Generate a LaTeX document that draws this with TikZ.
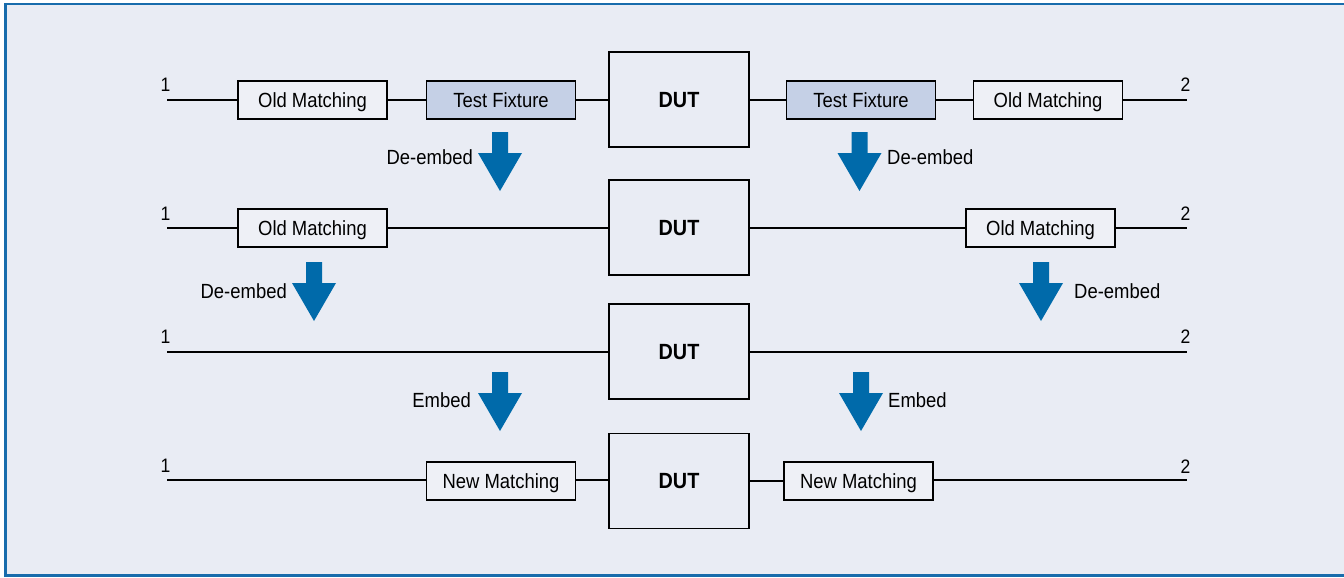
\documentclass[tikz,border=0pt]{standalone}
\usepackage{fontspec}
\setmainfont{Liberation Sans}[FakeStretch=0.9]
\definecolor{bg}{RGB}{233,236,244}
\definecolor{boxfill}{RGB}{238,240,246}
\definecolor{frame}{RGB}{24,108,172}
\definecolor{arrowblue}{RGB}{0,106,170}
\definecolor{fixture}{RGB}{197,208,230}
\begin{document}
\begin{tikzpicture}[x=1pt,y=-1pt,
  txt/.style={font=\fontsize{20.5}{24}\selectfont, inner sep=0pt},
  num/.style={font=\fontsize{19.5}{22}\selectfont, inner sep=0pt},
  blk/.style={draw=black, line width=1.4pt, fill=boxfill, minimum width=149pt, minimum height=38pt, inner sep=0pt, text height=14.7pt, text depth=0pt, font=\fontsize{20.5}{24}\selectfont},
  fixt/.style={blk, fill=fixture},
  dut/.style={draw=black, line width=1.4pt, fill=bg, minimum width=140pt, minimum height=95pt, inner sep=0pt, text height=15.8pt, text depth=0pt, font=\bfseries\fontsize{22}{26}\selectfont},
  wire/.style={line width=1.4pt, black},
  bigarrow/.style={fill=arrowblue}
]
\useasboundingbox (0,0) rectangle (1344,578);
\fill[white] (0,0) rectangle (1344,578);
\draw[frame, line width=2.5pt, fill=bg] (5.5,4) rectangle (1352,575.5);

% ---------- Row 1 ----------
\coordinate (a1) at (167,100);
\coordinate (b1) at (1187,100);
\node[blk]  (om1l) at (312.5,100) {Old Matching};
\node[fixt] (tf1l) at (501,100) {Test Fixture};
\node[dut]  (dut1) at (679,99.5) {DUT};
\node[fixt] (tf1r) at (861,100) {Test Fixture};
\node[blk]  (om1r) at (1048,100) {Old Matching};
\draw[wire] (a1) -- (om1l.west);
\draw[wire] (om1l.east) -- (tf1l.west);
\draw[wire] (tf1l.east) -- (dut1.west |- tf1l.east);
\draw[wire] (dut1.east |- tf1r.west) -- (tf1r.west);
\draw[wire] (tf1r.east) -- (om1r.west);
\draw[wire] (om1r.east) -- (b1);
\node[num, anchor=base] (n1a) at (165.5,92) {1};
\node[num, anchor=base] (n1b) at (1185.5,92) {2};

% ---------- Row 2 ----------
\coordinate (a2) at (167,228);
\coordinate (b2) at (1187,228);
\node[blk] (om2l) at (312.5,228) {Old Matching};
\node[dut] (dut2) at (679,227.5) {DUT};
\node[blk] (om2r) at (1040.5,228) {Old Matching};
\draw[wire] (a2) -- (om2l.west);
\draw[wire] (om2l.east) -- (dut2.west |- om2l.east);
\draw[wire] (dut2.east |- om2r.west) -- (om2r.west);
\draw[wire] (om2r.east) -- (b2);
\node[num, anchor=base] (n2a) at (165.5,220) {1};
\node[num, anchor=base] (n2b) at (1185.5,220) {2};

% ---------- Row 3 ----------
\coordinate (a3) at (167,352);
\coordinate (b3) at (1187,352);
\node[dut] (dut3) at (679,351.5) {DUT};
\draw[wire] (a3) -- (dut3.west |- a3);
\draw[wire] (dut3.east |- b3) -- (b3);
\node[num, anchor=base] (n3a) at (165.5,343) {1};
\node[num, anchor=base] (n3b) at (1185.5,343) {2};

% ---------- Row 4 ----------
\coordinate (a4) at (167,480);
\coordinate (b4) at (1187,480);
\node[blk] (nm4l) at (501,481) {New Matching};
\node[dut] (dut4) at (679,481) {DUT};
\node[blk] (nm4r) at (858.5,481) {New Matching};
\draw[wire] (a4) -- (nm4l.west |- a4);
\draw[wire] (nm4l.east |- a4) -- (dut4.west |- a4);
\draw[wire] (dut4.east |- nm4r.west) -- (nm4r.west);
\draw[wire] (nm4r.east |- b4) -- (b4);
\node[num, anchor=base] (n4a) at (165.5,472) {1};
\node[num, anchor=base] (n4b) at (1185.5,473) {2};

% ---------- Arrows ----------
\foreach \cx/\ty in {500/132, 859.5/132, 314/262, 1041/262, 500/372, 861/372}{
  \fill[bigarrow] (\cx-8,\ty) -- (\cx+8,\ty) -- (\cx+8,\ty+21) -- (\cx+22,\ty+21)
     -- (\cx,\ty+59) -- (\cx-22,\ty+21) -- (\cx-8,\ty+21) -- cycle;
}
\node[txt, anchor=east] (l1) at (473,157) {De-embed};
\node[txt, anchor=west] (r1) at (887,157) {De-embed};
\node[txt, anchor=east] (l2) at (287,291) {De-embed};
\node[txt, anchor=west] (r2) at (1074,291) {De-embed};
\node[txt, anchor=east] (l3) at (471,400) {Embed};
\node[txt, anchor=west] (r3) at (888,400) {Embed};
\end{tikzpicture}
\end{document}
